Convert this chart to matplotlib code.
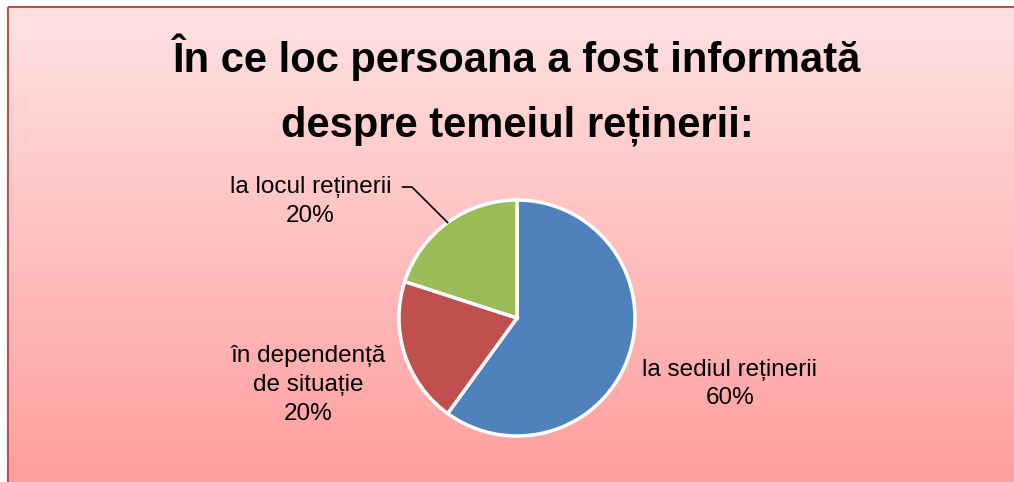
import numpy as np
import matplotlib
matplotlib.use('Agg')
import matplotlib.pyplot as plt
from matplotlib.patches import Rectangle

plt.rcParams['font.family'] = ['Liberation Sans', 'DejaVu Sans']

# date
categorii = ['la sediul reținerii', 'în dependență\nde situație', 'la locul reținerii']
procente = [60, 20, 20]
culori = ['#4F81BD', '#C0504D', '#9BBB59']
titlu = 'În ce loc persoana a fost informată\ndespre temeiul reținerii:'

W, H = 1014, 482
fig = plt.figure(figsize=(W / 100, H / 100), dpi=100)

# fundal cu gradient roz
bg = fig.add_axes([0, 0, 1, 1])
bg.set_xlim(0, W)
bg.set_ylim(H, 0)
bg.axis('off')
top = np.array([255, 226, 226]) / 255
bot = np.array([255, 158, 158]) / 255
t = np.linspace(0, 1, 256)[:, None]
grad = (top[None, :] * (1 - t) + bot[None, :] * t)[:, None, :]
bg.imshow(grad, extent=[8, W, H, 7], aspect='auto', zorder=0)
bg.add_patch(Rectangle((8, 7), W, H, fill=False, edgecolor='#C0504D', lw=1.5, zorder=1))

bg.text(517, 90, titlu, ha='center', va='center', fontsize=30, fontweight='bold',
        linespacing=1.78, color='black')

# pie
cx, cy, r = 517, 318, 118
ax = fig.add_axes([(cx - r) / W, (H - cy - r) / H, 2 * r / W, 2 * r / H])
ax.pie(procente, colors=culori, startangle=90, counterclock=False, radius=1,
       wedgeprops=dict(edgecolor='white', linewidth=2.5))
ax.set_xlim(-1, 1)
ax.set_ylim(-1, 1)
ax.axis('off')

lbl_pos = [(1.805, -0.56), (-1.77, -0.57), (-1.75, 0.99)]
for cat, p, pos in zip(categorii, procente, lbl_pos):
    ax.text(pos[0], pos[1], '%s\n%d%%' % (cat, p), ha='center', va='center',
            fontsize=17.5, linespacing=1.4, clip_on=False)

# linie de legatura pentru felia verde
ang = np.deg2rad(90 - (procente[0] + procente[1] + procente[2] / 2) * 3.6)
ax.plot([np.cos(ang), -0.89, -0.97], [np.sin(ang), 1.11, 1.11], color='black',
        lw=1.2, clip_on=False)

fig.savefig('out.png', dpi=100)
